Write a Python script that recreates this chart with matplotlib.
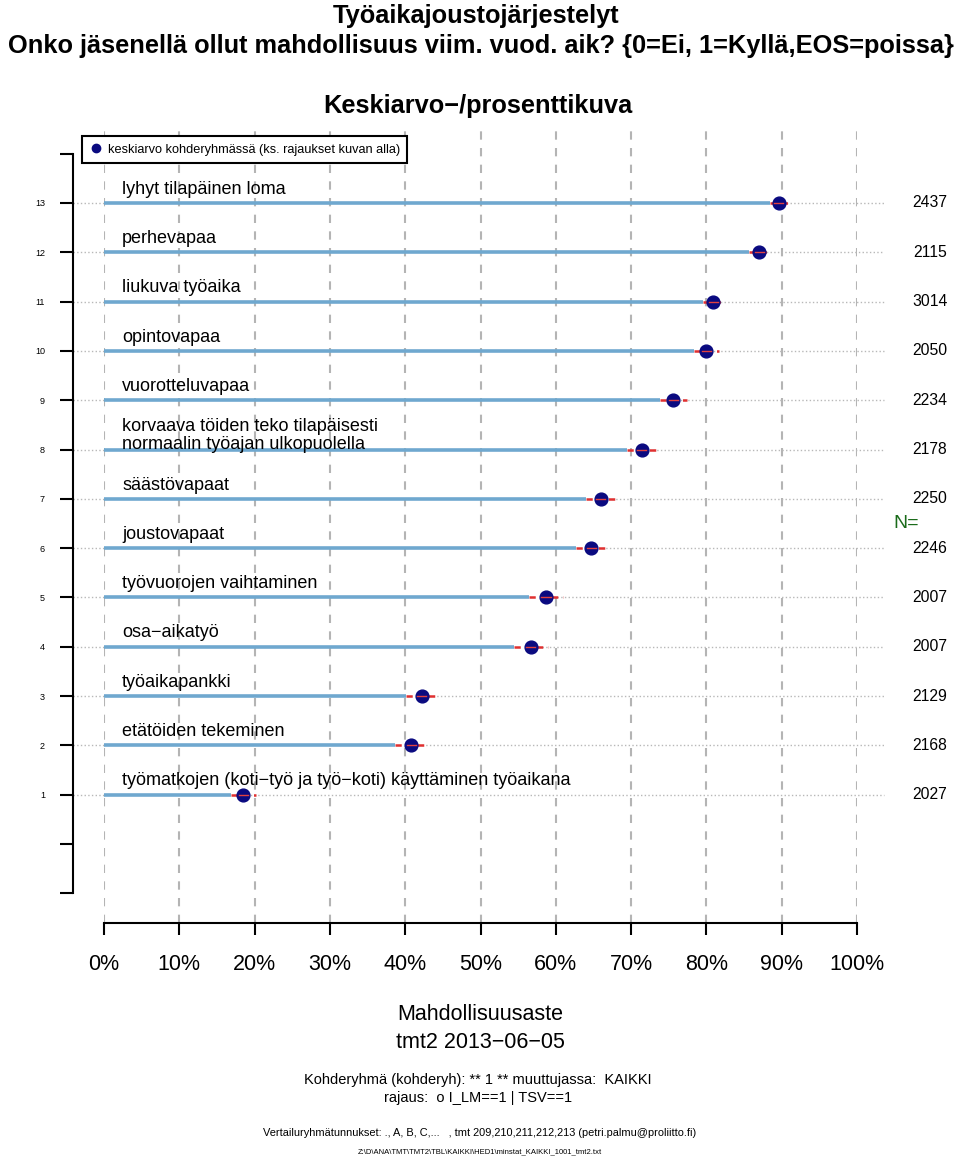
import matplotlib
matplotlib.use("Agg")
import matplotlib.pyplot as plt
from matplotlib.lines import Line2D

plt.rcParams['font.family'] = ['Liberation Sans', 'DejaVu Sans']

# rows from bottom (1) to top (13)
labels = [
    "työmatkojen (koti\u2212työ ja työ\u2212koti) käyttäminen työaikana",
    "etätöiden tekeminen",
    "työaikapankki",
    "osa\u2212aikatyö",
    "työvuorojen vaihtaminen",
    "joustovapaat",
    "säästövapaat",
    "korvaava töiden teko tilapäisesti\nnormaalin työajan ulkopuolella",
    "vuorotteluvapaa",
    "opintovapaa",
    "liukuva työaika",
    "perhevapaa",
    "lyhyt tilapäinen loma",
]
means = [18.5, 40.8, 42.2, 56.7, 58.7, 64.7, 66.0, 71.4, 75.6, 80.0, 80.9, 87.0, 89.6]
ci = [1.7, 2.1, 2.1, 2.2, 2.2, 2.0, 2.0, 1.9, 1.8, 1.7, 1.4, 1.4, 1.2]
n_obs = [2027, 2168, 2129, 2007, 2007, 2246, 2250, 2178, 2234, 2050, 3014, 2115, 2437]
xticks = [0, 10, 20, 30, 40, 50, 60, 70, 80, 90, 100]

W, H = 960, 1157
PT = 0.72  # points per pixel at dpi 100
fig = plt.figure(figsize=(W / 100, H / 100), dpi=100)
ax = fig.add_axes([104 / W, (H - 923) / H, 753 / W, (923 - 125) / H])
ax.set_xlim(0, 100)
ax.set_ylim(-1.6, 14.58)

# grey dashed verticals
for xv in xticks:
    ax.plot([xv, xv], [-1.6, 14.58], color='#b4b4b4', lw=1.5, ls=(0, (4, 4)), zorder=1)

rows = range(1, len(labels) + 1)
for y, lab, m, c, n in zip(rows, labels, means, ci, n_obs):
    ax.plot([-4.1, 0], [y, y], color='#b8b8b8', lw=1, ls=':', clip_on=False, zorder=1)
    ax.plot([m, 103.6], [y, y], color='#b8b8b8', lw=1, ls=':', clip_on=False, zorder=1)
    ax.plot([0, m - c], [y, y], color='#6fa8cf', lw=2.6, solid_capstyle='butt', zorder=2)
    ax.plot([m - c, m + c], [y, y], color='#e03030', lw=1.8, ls=(0, (2.5, 2)), zorder=3)
    ax.plot(m, y, 'o', ms=9.2, color='#0a0a80', zorder=4)
    ax.plot([m - 0.6, m + 0.6], [y, y], color='#e04040', lw=1, zorder=5)
    ax.text(2.4, y + 0.28, lab, fontsize=13, va='center', ha='left', linespacing=1.05)
    ax.text(109.7, y, str(n), fontsize=11.3, va='center', ha='center', clip_on=False)

ax.text(106.5, 6.5, "N=", fontsize=14, color='#1a6b1a', va='center', ha='center')

# axes styling
for s in ['top', 'right']:
    ax.spines[s].set_visible(False)
ax.spines['left'].set_position(('outward', 31 * PT))
ax.spines['left'].set_bounds(-1, 14)
ax.spines['left'].set_linewidth(1.5)
ax.spines['bottom'].set_bounds(0, 100)
ax.spines['bottom'].set_linewidth(1.5)
ax.set_yticks(range(-1, 15))
ax.set_yticklabels([str(v) if 1 <= v <= 13 else '' for v in range(-1, 15)], fontsize=6.5)
ax.tick_params(axis='y', length=13 * PT, width=1.5, pad=15 * PT)
ax.set_xticks(xticks)
ax.set_xticklabels([f"{v}%" for v in xticks], fontsize=15.5)
ax.tick_params(axis='x', length=12 * PT, width=1.5, pad=19 * PT)

# legend
proxy = Line2D([], [], marker='o', ls='', color='#0a0a80', ms=6)
leg = ax.legend([proxy], ["keskiarvo kohderyhmässä (ks. rajaukset kuvan alla)"],
                loc='upper left', bbox_to_anchor=(82 / W, 1 - 136 / H),
                bbox_transform=fig.transFigure, borderaxespad=0, fancybox=False,
                framealpha=1, edgecolor='black', fontsize=9.2, handletextpad=0.4,
                handlelength=1.0, borderpad=0.6)
leg.get_frame().set_linewidth(1.5)

# titles
tfont = dict(fontweight='bold', fontsize=18.3, ha='center', va='center')
fig.text(476 / W, 1 - 16 / H, "Työaikajoustojärjestelyt", **tfont)
fig.text(481 / W, 1 - 46 / H, "Onko jäsenellä ollut mahdollisuus viim. vuod. aik? {0=Ei, 1=Kyllä,EOS=poissa}", **tfont)
fig.text(478 / W, 1 - 106 / H, "Keskiarvo\u2212/prosenttikuva", **tfont)

# bottom texts
fig.text(480 / W, 1 - 1015 / H, "Mahdollisuusaste", fontsize=15.5, ha='center', va='center')
fig.text(480 / W, 1 - 1043 / H, "tmt2 2013\u221206\u221205", fontsize=15.5, ha='center', va='center')
fig.text(478 / W, 1 - 1080 / H, "Kohderyhmä (kohderyh): ** 1 ** muuttujassa:  KAIKKI", fontsize=10.5, ha='center', va='center')
fig.text(478 / W, 1 - 1098 / H, "rajaus:  o I_LM==1 | TSV==1", fontsize=10.5, ha='center', va='center')
fig.text(480 / W, 1 - 1133 / H, "Vertailuryhmätunnukset: ., A, B, C,...   , tmt 209,210,211,212,213 (petri.palmu@proliitto.fi)",
         fontsize=7.9, ha='center', va='center')
fig.text(480 / W, 1 - 1152 / H, "Z:\\D\\ANA\\TMT\\TMT2\\TBL\\KAIKKI\\HED1\\minstat_KAIKKI_1001_tmt2.txt",
         fontsize=5.5, ha='center', va='center')

fig.savefig("out.png", dpi=100)
